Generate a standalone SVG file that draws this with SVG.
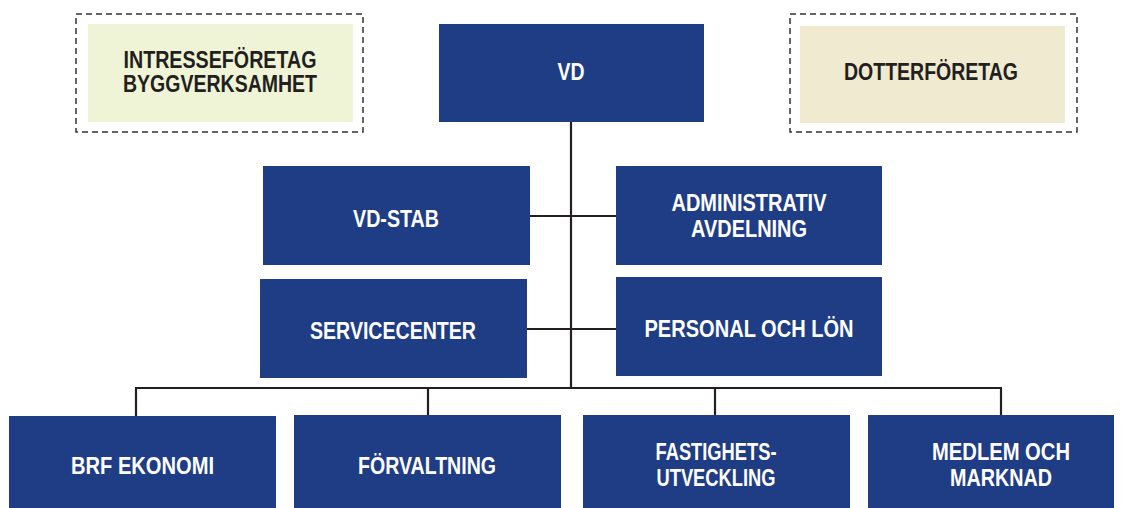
<svg xmlns="http://www.w3.org/2000/svg" width="1123" height="508" viewBox="0 0 1123 508">
  <style>
    .unit { fill: #1f3d85; }
    .lbl { font-family: "Liberation Sans", Arial, sans-serif; font-weight: bold; font-size: 23.5px; text-anchor: middle; fill: #ffffff; }
    .dark { fill: #231f20; }
    .frame { fill: none; stroke: #333333; stroke-width: 1.5; stroke-dasharray: 6 4; }
    .link { fill: none; stroke: #231f20; stroke-width: 2.2; }
  </style>
  <rect width="1123" height="508" fill="#ffffff"/>

  <!-- connectors -->
  <g id="connectors" class="link">
    <path d="M571 122 V388"/>
    <path d="M530 216 H616"/>
    <path d="M527 329 H616"/>
    <path d="M135 388 H1002"/>
    <path d="M136 388 V416"/>
    <path d="M428 388 V415"/>
    <path d="M715 388 V415"/>
    <path d="M1001 388 V415"/>
  </g>

  <g id="intresseforetag">
    <rect class="frame" x="76" y="14" width="287" height="118"/>
    <rect x="88" y="24" width="265" height="98" fill="#f0f4d6"/>
    <text class="lbl dark" x="220" y="68" textLength="193" lengthAdjust="spacingAndGlyphs">INTRESSEFÖRETAG</text>
    <text class="lbl dark" x="220" y="92" textLength="194" lengthAdjust="spacingAndGlyphs">BYGGVERKSAMHET</text>
  </g>

  <g id="vd">
    <rect class="unit" x="439" y="24" width="265" height="98"/>
    <text class="lbl" x="571" y="80" textLength="27" lengthAdjust="spacingAndGlyphs">VD</text>
  </g>

  <g id="dotterforetag">
    <rect class="frame" x="790" y="14" width="287" height="118"/>
    <rect x="800" y="26" width="265" height="97" fill="#f0ead0"/>
    <text class="lbl dark" x="931" y="80" textLength="174" lengthAdjust="spacingAndGlyphs">DOTTERFÖRETAG</text>
  </g>

  <g id="vd-stab">
    <rect class="unit" x="263" y="166" width="267" height="99"/>
    <text class="lbl" x="396" y="227" textLength="86" lengthAdjust="spacingAndGlyphs">VD-STAB</text>
  </g>

  <g id="administrativ">
    <rect class="unit" x="616" y="166" width="266" height="99"/>
    <text class="lbl" x="749" y="211" textLength="155" lengthAdjust="spacingAndGlyphs">ADMINISTRATIV</text>
    <text class="lbl" x="749" y="237" textLength="116" lengthAdjust="spacingAndGlyphs">AVDELNING</text>
  </g>

  <g id="servicecenter">
    <rect class="unit" x="260" y="279" width="267" height="99"/>
    <text class="lbl" x="393" y="339" textLength="166" lengthAdjust="spacingAndGlyphs">SERVICECENTER</text>
  </g>

  <g id="personal">
    <rect class="unit" x="616" y="277" width="266" height="99"/>
    <text class="lbl" x="749" y="337" textLength="209" lengthAdjust="spacingAndGlyphs">PERSONAL OCH LÖN</text>
  </g>

  <g id="brf-ekonomi">
    <rect class="unit" x="9" y="416" width="267" height="92"/>
    <text class="lbl" x="142.5" y="474" textLength="143" lengthAdjust="spacingAndGlyphs">BRF EKONOMI</text>
  </g>

  <g id="forvaltning">
    <rect class="unit" x="294" y="415" width="267" height="93"/>
    <text class="lbl" x="427" y="474" textLength="138" lengthAdjust="spacingAndGlyphs">FÖRVALTNING</text>
  </g>

  <g id="fastighetsutveckling">
    <rect class="unit" x="583" y="415" width="267" height="93"/>
    <text class="lbl" x="716" y="460" textLength="121" lengthAdjust="spacingAndGlyphs">FASTIGHETS-</text>
    <text class="lbl" x="716" y="486" textLength="119" lengthAdjust="spacingAndGlyphs">UTVECKLING</text>
  </g>

  <g id="medlem">
    <rect class="unit" x="868" y="415" width="246" height="93"/>
    <text class="lbl" x="1001" y="460" textLength="138" lengthAdjust="spacingAndGlyphs">MEDLEM OCH</text>
    <text class="lbl" x="1001" y="486" textLength="102" lengthAdjust="spacingAndGlyphs">MARKNAD</text>
  </g>
</svg>
